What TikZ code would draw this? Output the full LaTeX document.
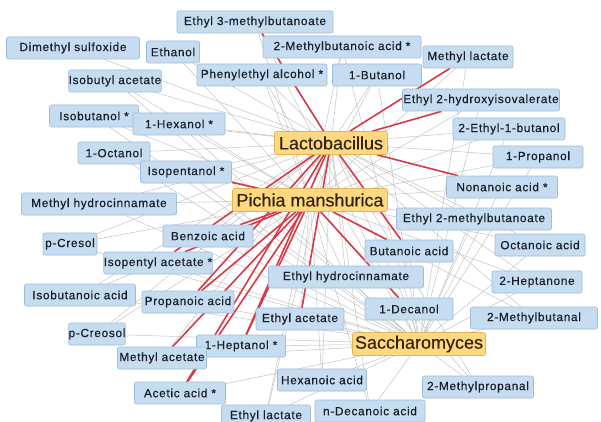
\documentclass[tikz,border=0pt]{standalone}
\usepackage{fontspec}
\setmainfont{Liberation Sans}
\newfontfamily\cmpfont{Liberation Sans}[LetterSpace=6,FakeBold=0.5]
\newfontfamily\hubfont{Liberation Sans}[FakeBold=0.2]
\usetikzlibrary{backgrounds}
\definecolor{cmpfill}{HTML}{C6DDF1}
\definecolor{cmpborder}{HTML}{9FBCD8}
\definecolor{cmptext}{HTML}{1A1E2A}
\definecolor{hubfill}{HTML}{FFD880}
\definecolor{hubborder}{HTML}{E2B45A}
\definecolor{hubtext}{HTML}{2E2410}
\definecolor{edgegray}{HTML}{C4C4C4}
\definecolor{edgered}{HTML}{D63A46}
\begin{document}
\begin{tikzpicture}[x=1pt,y=-1pt,
  cmp/.style={draw=cmpborder, fill=cmpfill, rounded corners=2pt, line width=0.6pt,
    minimum height=22pt, inner sep=0pt, font=\cmpfont\fontsize{11.8}{13}\selectfont, text=cmptext},
  hub/.style={draw=hubborder, fill=hubfill, rounded corners=2pt, line width=0.6pt,
    minimum height=23pt, inner sep=0pt, font=\hubfont\fontsize{18}{20}\selectfont, text=hubtext},
  ge/.style={draw=edgegray, line width=0.5pt},
  re/.style={draw=edgered, line width=1.6pt}]
\useasboundingbox (0,0) rectangle (601,422);

% compounds
\node[cmp, minimum width=156pt] (e3mb) at (255,22) {Ethyl 3-methylbutanoate};
\node[cmp, minimum width=133pt] (dms) at (73,48) {Dimethyl sulfoxide};
\node[cmp, minimum width=53pt] (eth) at (173,52) {Ethanol};
\node[cmp, minimum width=158pt] (mba) at (342,47) {2-Methylbutanoic acid *};
\node[cmp, minimum width=90pt] (mlac) at (468,57) {Methyl lactate};
\node[cmp, minimum width=90pt] (iba) at (115,81) {Isobutyl acetate};
\node[cmp, minimum width=130pt] (pea) at (262,75) {Phenylethyl alcohol *};
\node[cmp, minimum width=89pt] (but) at (377,75) {1-Butanol};
\node[cmp, minimum width=157pt] (e2h) at (481,100) {Ethyl 2-hydroxyisovalerate};
\node[cmp, minimum width=89pt] (ibu) at (94,116) {Isobutanol *};
\node[cmp, minimum width=92pt] (hex) at (179,124) {1-Hexanol *};
\node[cmp, minimum width=112pt] (eb) at (509,129) {2-Ethyl-1-butanol};
\node[cmp, minimum width=72pt] (oct) at (114,153) {1-Octanol};
\node[cmp, minimum width=91pt] (ipen) at (186,172) {Isopentanol *};
\node[cmp, minimum width=90pt] (prop) at (538,157) {1-Propanol};
\node[cmp, minimum width=111pt] (non) at (502,187) {Nonanoic acid *};
\node[cmp, minimum width=155pt] (mhc) at (99,204) {Methyl hydrocinnamate};
\node[cmp, minimum width=155pt] (e2mb) at (474,219) {Ethyl 2-methylbutanoate};
\node[cmp, minimum width=90pt] (benz) at (208,236) {Benzoic acid};
\node[cmp, minimum width=54pt] (pcr) at (70,244) {p-Cresol};
\node[cmp, minimum width=90pt] (octa) at (540,245) {Octanoic acid};
\node[cmp, minimum width=88pt] (buta) at (409,251) {Butanoic acid};
\node[cmp, minimum width=101pt] (ipa) at (158,263) {Isopentyl acetate *};
\node[cmp, minimum width=155pt] (ehc) at (346,277) {Ethyl hydrocinnamate};
\node[cmp, minimum width=90pt] (hept) at (537,282) {2-Heptanone};
\node[cmp, minimum width=111pt] (iboa) at (80,295) {Isobutanoic acid};
\node[cmp, minimum width=92pt] (proa) at (188,302) {Propanoic acid};
\node[cmp, minimum width=88pt] (dec) at (409,309) {1-Decanol};
\node[cmp, minimum width=127pt] (mbal) at (534,318) {2-Methylbutanal};
\node[cmp, minimum width=88pt] (eac) at (300,319) {Ethyl acetate};
\node[cmp, minimum width=53pt] (pcreo) at (97,334) {p-Creosol};
\node[cmp, minimum width=89pt] (hepol) at (241,346) {1-Heptanol *};
\node[cmp, minimum width=89pt] (mac) at (162,358) {Methyl acetate};
\node[cmp, minimum width=91pt] (aca) at (180,393) {Acetic acid *};
\node[cmp, minimum width=89pt] (hexa) at (322,380) {Hexanoic acid};
\node[cmp, minimum width=111pt] (mpal) at (478,387) {2-Methylpropanal};
\node[cmp, minimum width=89pt] (elac) at (266,416) {Ethyl lactate};
\node[cmp, minimum width=110pt] (ndec) at (370,411) {n-Decanoic acid};

% hubs
\node[hub, minimum width=113pt] (lacto) at (331,143) {Lactobacillus};
\node[hub, minimum width=155pt] (pichia) at (310,200) {Pichia manshurica};
\node[hub, minimum width=133pt] (sacch) at (419,344) {Saccharomyces};

\begin{scope}[on background layer]
  \fill[white] (0,0) rectangle (601,422);
  \foreach \c in {dms,eth,mba,pea,but,iba,ibu,hex,eb,oct,ipen,prop,mhc,e2mb,benz,pcr,octa,ehc,hept,iboa,dec,mbal,pcreo,mac,hexa,mpal,elac,ndec}
    \draw[ge] (lacto) -- (\c);
  \foreach \c in {eth,e3mb,mba,mlac,pea,but,iba,ibu,hex,e2h,eb,oct,prop,non,mhc,e2mb,pcr,octa,ehc,hept,iboa,mbal,eac,pcreo,hexa,mpal,elac,ndec}
    \draw[ge] (pichia) -- (\c);
  \foreach \c in {e3mb,mba,mlac,pea,but,iba,ibu,hex,e2h,eb,oct,ipen,prop,non,mhc,e2mb,benz,pcr,octa,buta,ipa,ehc,hept,iboa,proa,dec,mbal,eac,pcreo,hepol,mac,aca,hexa,mpal,elac,ndec}
    \draw[ge] (sacch) -- (\c);
  \foreach \c in {e3mb,mlac,e2h,non,buta,eac,aca,hepol,proa,ipa}
    \draw[re] (lacto) -- (\c);
  \foreach \c in {ipen,benz,ipa,proa,mac,aca,hepol,dec,buta}
    \draw[re] (pichia) -- (\c);
\end{scope}
\end{tikzpicture}
\end{document}
